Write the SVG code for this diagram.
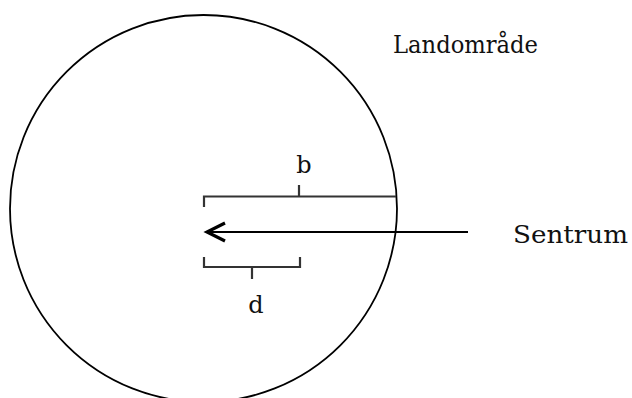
<svg xmlns="http://www.w3.org/2000/svg" width="632" height="398" viewBox="0 0 632 398">
  <style>
    .ln { fill: none; stroke: #000; stroke-width: 1.8; stroke-linecap: butt; }
    .br { fill: none; stroke: #333; stroke-width: 2.2; }
    .tx { font-family: "DejaVu Serif", "Liberation Serif", serif; fill: #111; }
  </style>
  <rect width="632" height="398" fill="#fff"/>
  <g id="landomrade">
    <circle cx="203.5" cy="208.5" r="193.5" class="ln"/>
    <text x="393" y="53" class="tx" font-size="25" textLength="145" lengthAdjust="spacingAndGlyphs">Landområde</text>
  </g>
  <g id="bracket-b">
    <path d="M204,207 V196.5 H396 M299,196.5 V185" class="br"/>
    <text x="304" y="173" class="tx" font-size="24" text-anchor="middle">b</text>
  </g>
  <g id="bracket-d">
    <path d="M204,257 V267 H300 V257 M252,267 V279" class="br"/>
    <text x="256" y="313" class="tx" font-size="24" text-anchor="middle">d</text>
  </g>
  <g id="sentrum">
    <text x="513" y="243" class="tx" font-size="25" textLength="115" lengthAdjust="spacingAndGlyphs">Sentrum</text>
  </g>
  <g id="connectors">
    <path d="M468,232 H207" class="ln" stroke-width="2"/>
    <path d="M225,223 L207,232 L225,241" fill="none" stroke="#000" stroke-width="3.2" stroke-linejoin="miter"/>
  </g>
</svg>
